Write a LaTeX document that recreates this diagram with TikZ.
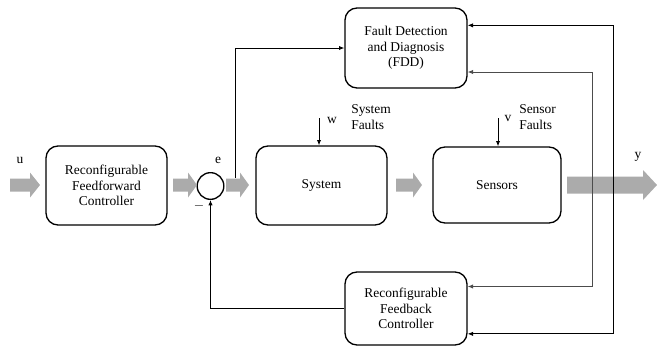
\documentclass[tikz,border=0pt]{standalone}
\usepackage{fontspec}
\setmainfont{Liberation Serif}
\usetikzlibrary{arrows.meta}
\newcommand{\bkarrow}[6]{% x1 x2 y bodyhalf headhalf headlen
  \fill[blockgray] (#1,#3-#4) -- (#2-#6,#3-#4) -- (#2-#6,#3-#5) -- (#2,#3) -- (#2-#6,#3+#5) -- (#2-#6,#3+#4) -- (#1,#3+#4) -- cycle;}
\begin{document}
\begin{tikzpicture}[x=0.75pt,y=-0.75pt,
  font=\fontsize{10.1}{11.6}\selectfont,
  box/.style={draw,line width=1pt,rounded corners=9pt,align=center,inner sep=0pt},
  conn/.style={line width=0.65pt,-{Latex[length=4pt,width=3.2pt]}},
  lbl/.style={inner sep=0pt}]
\colorlet{blockgray}{black!33}
\useasboundingbox (0,0) rectangle (657,347);
% boxes
\node[box,minimum width=90.75pt,minimum height=59.25pt] (ff) at (106.5,185.5) {Reconfigurable\\Feedforward\\Controller};
\node[box,minimum width=98.25pt,minimum height=59.25pt] (sys) at (321.5,185.5) {System};
\node[box,minimum width=96pt,minimum height=57pt] (sen) at (497,185) {Sensors};
\node[box,minimum width=91.5pt,minimum height=60pt] (fdd) at (406,48) {Fault Detection\\and Diagnosis\\(FDD)};
\node[box,minimum width=91.5pt,minimum height=54.75pt] (fb) at (406,308.5) {Reconfigurable\\Feedback\\Controller};
\node[draw,circle,line width=1pt,minimum size=20pt,inner sep=0pt] (sum) at (210.5,186) {};
% block arrows
\bkarrow{10}{40}{185}{6.5}{12.5}{10}
\bkarrow{173}{197}{185}{6.5}{12.5}{9}
\bkarrow{226}{249}{185}{6.5}{12.5}{9}
\bkarrow{396}{422}{185}{6.5}{12.5}{9}
\bkarrow{567}{657}{185}{8.5}{15}{14}
% labels
\node[lbl] (ul) at (20,160) {u};
\node[lbl] (el) at (218,160) {e};
\node[lbl] (ml) at (199,206) {$-$};
\node[lbl] (yl) at (638,157) {y};
\node[lbl] (wl) at (332,120) {w};
\node[lbl] (vl) at (508,118) {v};
\node[lbl,align=left,anchor=west] (sfl) at (351,117) {System\\Faults};
\node[lbl,align=left,anchor=west] (efl) at (519,117) {Sensor\\Faults};
% coordinates
\coordinate (eo) at (235,178);
\coordinate (wt) at (319,118);
\coordinate (vt) at (498,118);
\coordinate (g1) at (592,185);
\coordinate (b1) at (613,185);
% connectors
\draw[conn] (eo) |- (fdd.west);
\draw[conn] (fb.west) -| (sum.south);
\draw[conn] (wt) -- (wt |- sys.north);
\draw[conn] (vt) -- (vt |- sen.north);
\draw[conn,color=black!70] (g1) |- ([yshift=-18pt]fdd.east);
\draw[conn,color=black!70] (g1) |- ([yshift=16.5pt]fb.east);
\draw[conn] (b1) |- ([yshift=17pt]fdd.east);
\draw[conn] (b1) |- ([yshift=-19pt]fb.east);
\end{tikzpicture}
\end{document}
